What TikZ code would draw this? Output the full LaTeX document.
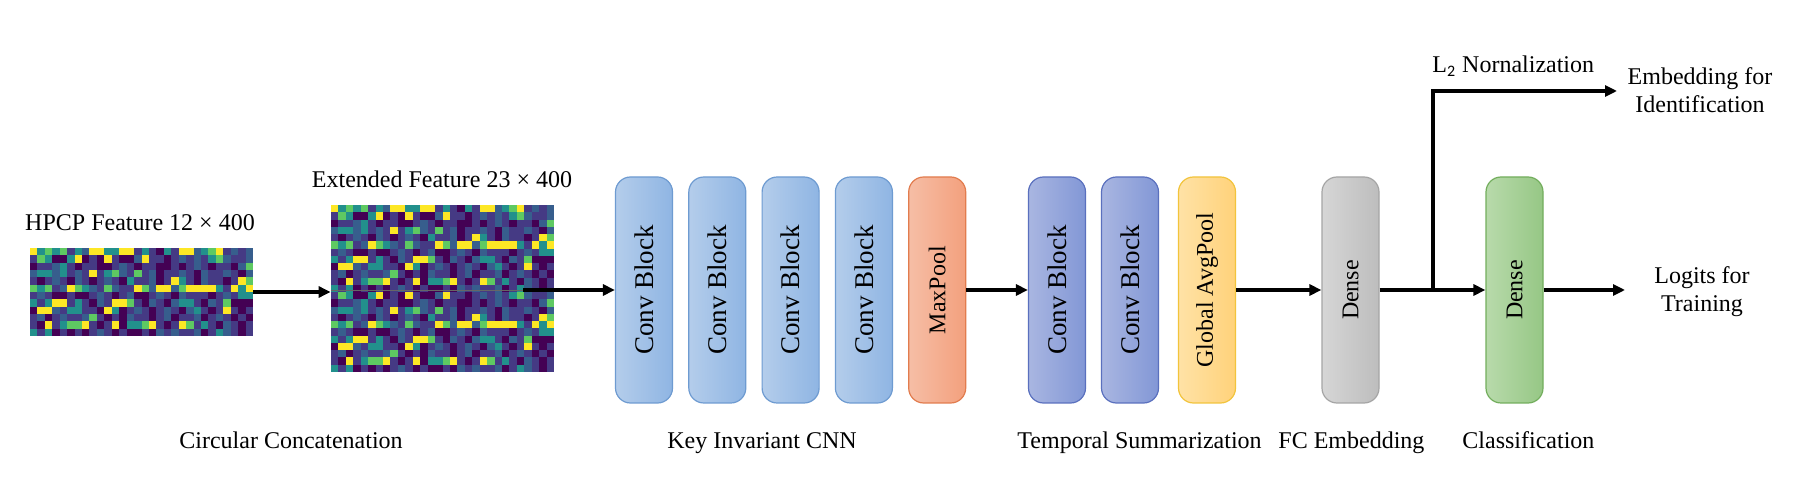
\documentclass[tikz,border=0pt]{standalone}
\usepackage{fontspec}
\setmainfont{Liberation Serif}
\newfontfamily\subsans{Carlito}
\usetikzlibrary{arrows.meta}
\definecolor{vir0}{HTML}{440154}
\definecolor{vir1}{HTML}{453A84}
\definecolor{vir2}{HTML}{375E8D}
\definecolor{vir3}{HTML}{22908C}
\definecolor{vir4}{HTML}{5EC962}
\definecolor{vir5}{HTML}{FDE725}
\definecolor{convL}{HTML}{B4CDEB}
\definecolor{convR}{HTML}{8FB5E3}
\definecolor{convB}{HTML}{6E9BD1}
\definecolor{mpL}{HTML}{F6BEA6}
\definecolor{mpR}{HTML}{F3A07D}
\definecolor{mpB}{HTML}{E27C4E}
\definecolor{tcL}{HTML}{A9B6E1}
\definecolor{tcR}{HTML}{8297D6}
\definecolor{tcB}{HTML}{5A70BE}
\definecolor{gapL}{HTML}{FFE2A6}
\definecolor{gapR}{HTML}{FFD27A}
\definecolor{gapB}{HTML}{F2C43C}
\definecolor{dnL}{HTML}{D6D6D6}
\definecolor{dnR}{HTML}{BDBDBD}
\definecolor{dnB}{HTML}{A5A5A5}
\definecolor{clL}{HTML}{B8DAAB}
\definecolor{clR}{HTML}{96C785}
\definecolor{clB}{HTML}{73AE5D}
% heatmap rows (viridis levels 0..5)
\def\rA{534341325533551310315523451212}
\def\rB{143003501051002511012121342112}
\def\rC{011231011001210110010121011024}
\def\rD{233231215134214120112102112102}
\def\rE{101210210121031120153102110154}
\def\rF{434125432142115425524555531535}
\def\rG{121001001210120012102111012133}
\def\rH{313551310215541021023310214000}
\def\rI{055213311053012101210231015101}
\def\rJ{120121124101021101201120121010}
\def\rK{105134451015033451015413102101}
\def\rL{313010101210100102121120132101}
\newcommand\hmrow[3]{\def\hmx{#1}\def\hmy{#2}\def\hmh{#3}\expandafter\hmcells\hmdigits\relax}
\def\hmcells#1{\ifx#1\relax\else
  \fill[vir#1] (\hmx,\hmy) rectangle ++(7.6,\hmh);%
  \pgfmathsetmacro\hmx{\hmx+7.4333}%
  \expandafter\hmcells\fi}
\begin{document}
\begin{tikzpicture}[x=0.5pt,y=-0.5pt,
  blk/.style={draw, rounded corners=7.5pt, line width=0.6pt, minimum width=28.5pt, minimum height=113pt, inner sep=0pt},
  conv/.style={blk, draw=convB, left color=convL, right color=convR},
  mpool/.style={blk, draw=mpB, left color=mpL, right color=mpR},
  tconv/.style={blk, draw=tcB, left color=tcL, right color=tcR},
  gpool/.style={blk, draw=gapB, left color=gapL, right color=gapR},
  dense/.style={blk, draw=dnB, left color=dnL, right color=dnR},
  clsf/.style={blk, draw=clB, left color=clL, right color=clR},
  arr/.style={line width=1.7pt, -{Triangle[length=6pt,width=5.5pt]}},
  lbl/.style={font=\fontsize{12}{14}\selectfont, inner sep=0pt},
  vbig/.style={rotate=90, inner sep=0pt, font=\fontsize{13.5}{16}\selectfont},
  vsml/.style={rotate=90, inner sep=0pt, font=\fontsize{12}{14}\selectfont},
  hmbox/.style={inner sep=0pt, minimum width=111.5pt}
]
\useasboundingbox (0,0) rectangle (1814,491);
\fill[white] (0,0) rectangle (1814,491);

% HPCP heatmap 12 x 30
\foreach \r [count=\j from 0] in {\rA,\rB,\rC,\rD,\rE,\rF,\rG,\rH,\rI,\rJ,\rK,\rL}{%
  \edef\hmdigits{\r}\pgfmathsetmacro\hmyy{248+7.3333*\j}\hmrow{30}{\hmyy}{7.5}}
\node[hmbox, minimum height=44pt] (hpcp) at (141.5,292) {};

% Extended heatmap 23 x 30
\foreach \r [count=\j from 0] in {\rA,\rB,\rC,\rD,\rE,\rF,\rG,\rH,\rI,\rJ,\rK,\rL,\rB,\rC,\rD,\rE,\rF,\rG,\rH,\rI,\rJ,\rK,\rL}{%
  \edef\hmdigits{\r}\pgfmathsetmacro\hmyy{205+7.2609*\j}\hmrow{331}{\hmyy}{7.42}}
\node[hmbox, minimum height=83.5pt] (ext) at (442.5,288.5) {};

\node[lbl, anchor=base] (thpcp) at (140,231) {HPCP Feature 12 × 400};
\node[lbl, anchor=base] (text2) at (442,188) {Extended Feature 23 × 400};

% blocks
\node[conv] (c1) at (644,290) {};
\node[conv] (c2) at (717.3,290) {};
\node[conv] (c3) at (790.6,290) {};
\node[conv] (c4) at (863.9,290) {};
\node[mpool] (mp) at (937.2,290) {};
\node[tconv] (c5) at (1057,290) {};
\node[tconv] (c6) at (1130,290) {};
\node[gpool] (gap) at (1207,290) {};
\node[dense] (d1) at (1350.5,290) {};
\node[clsf] (d2) at (1514.5,290) {};

\node[vbig] (t1) at (c1) {Conv Block};
\node[vbig] (t2) at (c2) {Conv Block};
\node[vbig] (t3) at (c3) {Conv Block};
\node[vbig] (t4) at (c4) {Conv Block};
\node[vsml] (tmp) at (mp) {MaxPool};
\node[vbig] (t5) at (c5) {Conv Block};
\node[vbig] (t6) at (c6) {Conv Block};
\node[vsml] (tgap) at (gap) {Global AvgPool};
\node[vsml] (td1) at (d1) {Dense};
\node[vsml] (td2) at (d2) {Dense};

% outputs
\node[lbl, anchor=base west] (l2) at (1432,73) {L\textsubscript{\subsans 2} Nornalization};
\node[lbl, align=center] (emb) at (1700,90) {Embedding for\\Identification};
\node[lbl, align=center] (logit) at (1702,292) {Logits for\\Training};

% bottom labels
\node[lbl, anchor=base west] (lcc) at (179,448) {Circular Concatenation};
\node[lbl, anchor=base west] (lki) at (667,448) {Key Invariant CNN};
\node[lbl, anchor=base west] (lts) at (1017,448) {Temporal Summarization};
\node[lbl, anchor=base west] (lfc) at (1278,448) {FC Embedding};
\node[lbl, anchor=base west] (lcl) at (1462,448) {Classification};

% connectors
\coordinate (extout) at (523,290);
\coordinate (br) at (1433,290);
\coordinate (embtip) at (1617,91);
\coordinate (logtip) at (1625,290);
\draw[arr] (hpcp.east) -- (hpcp.east -| ext.west);
\draw[line width=0.4pt, black!60] (ext.west |- extout) -- (extout);
\draw[arr] (extout) -- (c1.west);
\draw[arr] (mp.east) -- (c5.west);
\draw[arr] (gap.east) -- (d1.west);
\draw[arr] (d1.east) -- (d2.west);
\draw[arr] (br) |- (embtip);
\draw[arr] (d2.east) -- (logtip);
\end{tikzpicture}
\end{document}
